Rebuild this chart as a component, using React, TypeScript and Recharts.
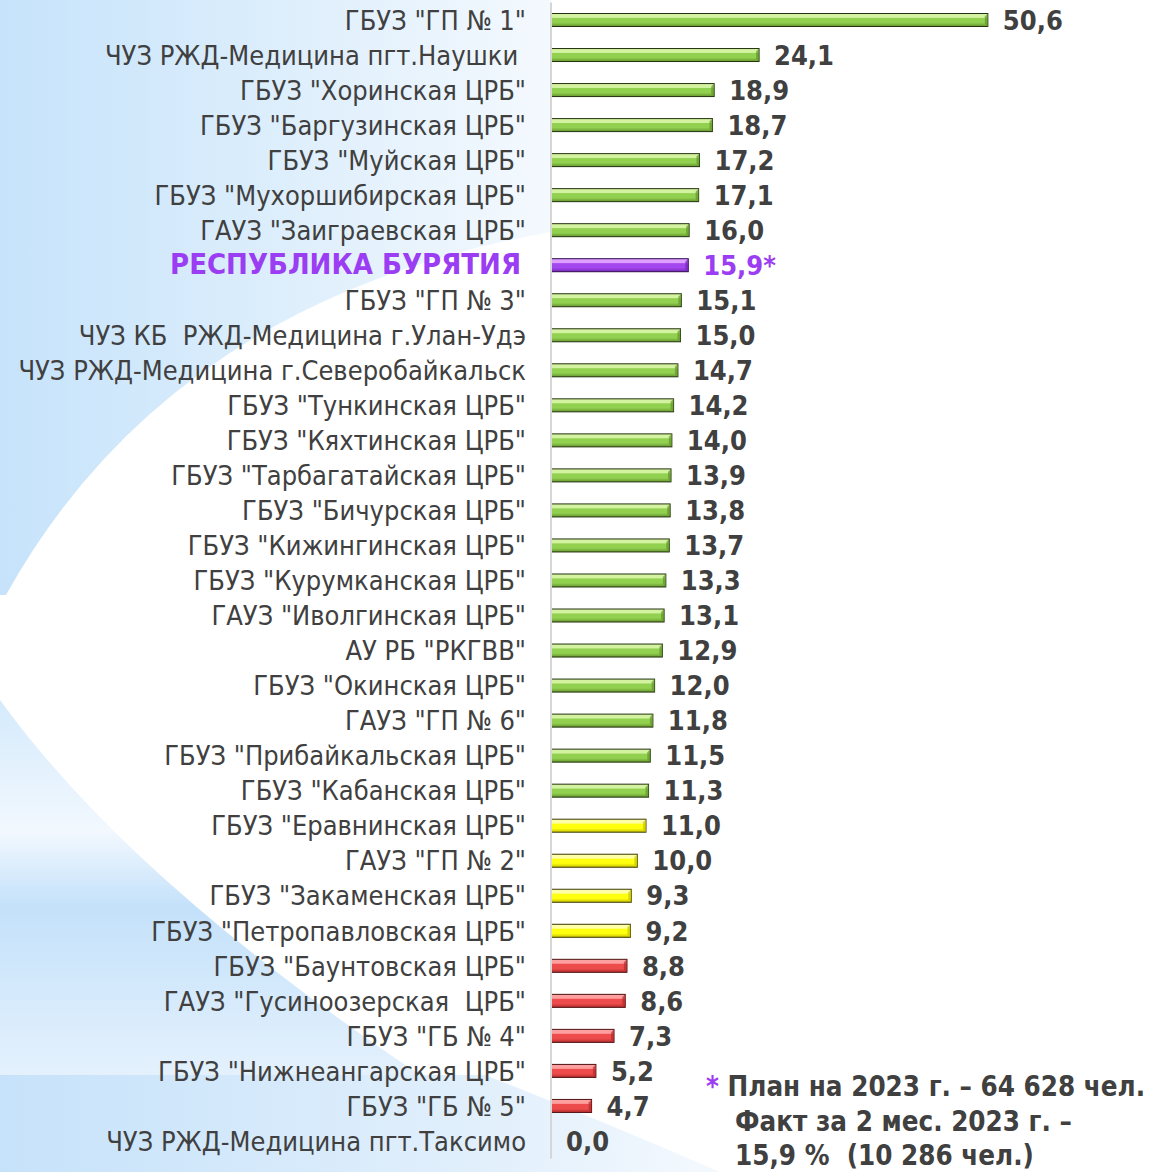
import React from 'react';
import { BarChart, Bar, XAxis, YAxis, LabelList } from 'recharts';

const categories = [
  'ГБУЗ "ГП № 1"',
  'ЧУЗ РЖД-Медицина пгт.Наушки ',
  'ГБУЗ "Хоринская ЦРБ"',
  'ГБУЗ "Баргузинская ЦРБ"',
  'ГБУЗ "Муйская ЦРБ"',
  'ГБУЗ "Мухоршибирская ЦРБ"',
  'ГАУЗ "Заиграевская ЦРБ"',
  'РЕСПУБЛИКА БУРЯТИЯ',
  'ГБУЗ "ГП № 3"',
  'ЧУЗ КБ  РЖД-Медицина г.Улан-Удэ',
  'ЧУЗ РЖД-Медицина г.Северобайкальск',
  'ГБУЗ "Тункинская ЦРБ"',
  'ГБУЗ "Кяхтинская ЦРБ"',
  'ГБУЗ "Тарбагатайская ЦРБ"',
  'ГБУЗ "Бичурская ЦРБ"',
  'ГБУЗ "Кижингинская ЦРБ"',
  'ГБУЗ "Курумканская ЦРБ"',
  'ГАУЗ "Иволгинская ЦРБ"',
  'АУ РБ "РКГВВ"',
  'ГБУЗ "Окинская ЦРБ"',
  'ГАУЗ "ГП № 6"',
  'ГБУЗ "Прибайкальская ЦРБ"',
  'ГБУЗ "Кабанская ЦРБ"',
  'ГБУЗ "Еравнинская ЦРБ"',
  'ГАУЗ "ГП № 2"',
  'ГБУЗ "Закаменская ЦРБ"',
  'ГБУЗ "Петропавловская ЦРБ"',
  'ГБУЗ "Баунтовская ЦРБ"',
  'ГАУЗ "Гусиноозерская  ЦРБ"',
  'ГБУЗ "ГБ № 4"',
  'ГБУЗ "Нижнеангарская ЦРБ"',
  'ГБУЗ "ГБ № 5"',
  'ЧУЗ РЖД-Медицина пгт.Таксимо',
];

const values = [
  50.6, 24.1, 18.9, 18.7, 17.2, 17.1, 16.0, 15.9, 15.1, 15.0, 14.7, 14.2, 14.0,
  13.9, 13.8, 13.7, 13.3, 13.1, 12.9, 12.0, 11.8, 11.5, 11.3, 11.0, 10.0, 9.3,
  9.2, 8.8, 8.6, 7.3, 5.2, 4.7, 0.0,
];

// g = green, y = yellow, r = red, p = republic total
const groups = [
  'g', 'g', 'g', 'g', 'g', 'g', 'g', 'p', 'g', 'g', 'g', 'g', 'g', 'g', 'g',
  'g', 'g', 'g', 'g', 'g', 'g', 'g', 'g', 'y', 'y', 'y', 'y', 'r', 'r', 'r',
  'r', 'r', 'r',
];

const noteLines = [
  'План на 2023 г. – 64 628 чел.',
  'Факт за 2 мес. 2023 г. –',
  '15,9 %  (10 286 чел.)',
];

const data = categories.map((name, i) => ({
  name,
  value: values[i],
  group: groups[i],
}));

const FONT = '"DejaVu Sans Condensed", "DejaVu Sans", sans-serif';
const TEXT = '#404040';
const PURPLE = '#9b3df2';

const palette: Record<string, { hi: string; mid: string; lo: string; stroke: string }> = {
  g: { hi: '#d4f3a0', mid: '#92d050', lo: '#63952c', stroke: '#24320f' },
  y: { hi: '#ffffa8', mid: '#ffff10', lo: '#c9c400', stroke: '#3b3800' },
  r: { hi: '#ffa0a0', mid: '#ee4c4c', lo: '#b52c2c', stroke: '#4f1010' },
  p: { hi: '#e0a0ff', mid: '#a347ee', lo: '#7427b8', stroke: '#2f0a50' },
};

const BarShape = (props: any) => {
  const { x, y, width, height, payload } = props;
  if (!width || width <= 0) return null;
  const g = payload.group;
  const c = palette[g];
  const bev = Math.min(3, width / 2);
  return (
    <g>
      <rect x={x} y={y} width={width} height={height} fill={`url(#grad-${g})`} stroke={c.stroke} strokeWidth={1} />
      <polygon
        points={`${x + width - bev},${y + bev} ${x + width},${y} ${x + width},${y + height} ${x + width - bev},${y + height - bev}`}
        fill={c.lo}
        opacity={0.7}
      />
    </g>
  );
};

const YTick = (props: any) => {
  const { x, y, payload } = props;
  const isRep = payload.value === 'РЕСПУБЛИКА БУРЯТИЯ';
  return (
    <text
      x={isRep ? x - 5 : x}
      y={y}
      dy={isRep ? '0.3em' : '0.36em'}
      textAnchor="end"
      fill={isRep ? PURPLE : TEXT}
      fontFamily={FONT}
      fontSize={isRep ? 29 : 27}
      fontWeight={isRep ? 'bold' : 'normal'}
      style={{ whiteSpace: 'pre' }}
    >
      {payload.value}
    </text>
  );
};

const ValueLabel = (props: any) => {
  const { x, y, width, height, value, index } = props;
  const isRep = groups[index] === 'p';
  const txt = Number(value).toFixed(1).replace('.', ',') + (isRep ? '*' : '');
  return (
    <text
      x={x + width + 15}
      y={y + height / 2}
      dy="0.36em"
      fill={isRep ? PURPLE : TEXT}
      fontFamily={FONT}
      fontSize={27}
      fontWeight="bold"
    >
      {txt}
    </text>
  );
};

const Background = () => (
  <svg width={1150} height={1172} style={{ position: 'absolute', left: 0, top: 0 }}>
    <defs>
      <linearGradient id="bgTop" x1="0" y1="0" x2="1" y2="0">
        <stop offset="0%" stopColor="#c6e3fb" />
        <stop offset="55%" stopColor="#dfeffc" />
        <stop offset="100%" stopColor="#f4f9fe" />
      </linearGradient>
      <linearGradient id="bgLeft" x1="0" y1="0" x2="0" y2="1">
        <stop offset="0%" stopColor="#d4eafc" />
        <stop offset="35%" stopColor="#f2f8fe" />
        <stop offset="55%" stopColor="#c4e1fa" />
        <stop offset="100%" stopColor="#e4f1fd" />
      </linearGradient>
      <linearGradient id="bgBottom" x1="0" y1="0" x2="1" y2="0">
        <stop offset="0%" stopColor="#c6e2fa" />
        <stop offset="70%" stopColor="#e3f0fc" />
        <stop offset="100%" stopColor="#f4f9fe" />
      </linearGradient>
    </defs>
    <rect x={0} y={0} width={1150} height={1172} fill="#ffffff" />
    <path d="M0,0 L551,0 L551,232 Q170,300 6,595 L0,595 Z" fill="url(#bgTop)" />
    <path d="M0,700 Q130,880 420,1075 L0,1075 Z" fill="url(#bgLeft)" />
    <path d="M0,1075 L485,1075 Q600,1120 720,1172 L0,1172 Z" fill="url(#bgBottom)" />
  </svg>
);

export default function App() {
  return (
    <div style={{ position: 'absolute', left: 0, top: 0, width: 1150, height: 1172, overflow: 'hidden', background: '#fff' }}>
      <Background />
      <div style={{ position: 'absolute', left: 0, top: 0 }}>
        <BarChart
          width={1150}
          height={1172}
          data={data}
          layout="vertical"
          margin={{ top: 2.5, right: 81, bottom: 13.5, left: 0 }}
          barCategoryGap={0}
        >
          <defs>
            {Object.keys(palette).map((k) => (
              <linearGradient key={k} id={`grad-${k}`} x1="0" y1="0" x2="0" y2="1">
                <stop offset="0%" stopColor={palette[k].hi} />
                <stop offset="30%" stopColor={palette[k].hi} />
                <stop offset="38%" stopColor={palette[k].mid} />
                <stop offset="70%" stopColor={palette[k].mid} />
                <stop offset="100%" stopColor={palette[k].lo} />
              </linearGradient>
            ))}
          </defs>
          <XAxis type="number" domain={[0, 60]} hide />
          <YAxis
            type="category"
            dataKey="name"
            width={551}
            interval={0}
            tick={<YTick />}
            tickLine={false}
            tickSize={0}
            tickMargin={25}
            axisLine={{ stroke: '#d6d6d6', strokeWidth: 2 }}
          />
          <Bar dataKey="value" barSize={13} shape={<BarShape />} isAnimationActive={false}>
            <LabelList dataKey="value" content={<ValueLabel />} />
          </Bar>
        </BarChart>
      </div>
      <div
        style={{
          position: 'absolute',
          left: 706,
          top: 1069,
          fontFamily: FONT,
          fontWeight: 'bold',
          fontSize: 27.5,
          color: TEXT,
          lineHeight: '34.5px',
          whiteSpace: 'pre',
        }}
      >
        <div>
          <span style={{ color: PURPLE }}>*</span> {noteLines[0]}
        </div>
        <div style={{ paddingLeft: 29 }}>{noteLines[1]}</div>
        <div style={{ paddingLeft: 29 }}>{noteLines[2]}</div>
      </div>
    </div>
  );
}
